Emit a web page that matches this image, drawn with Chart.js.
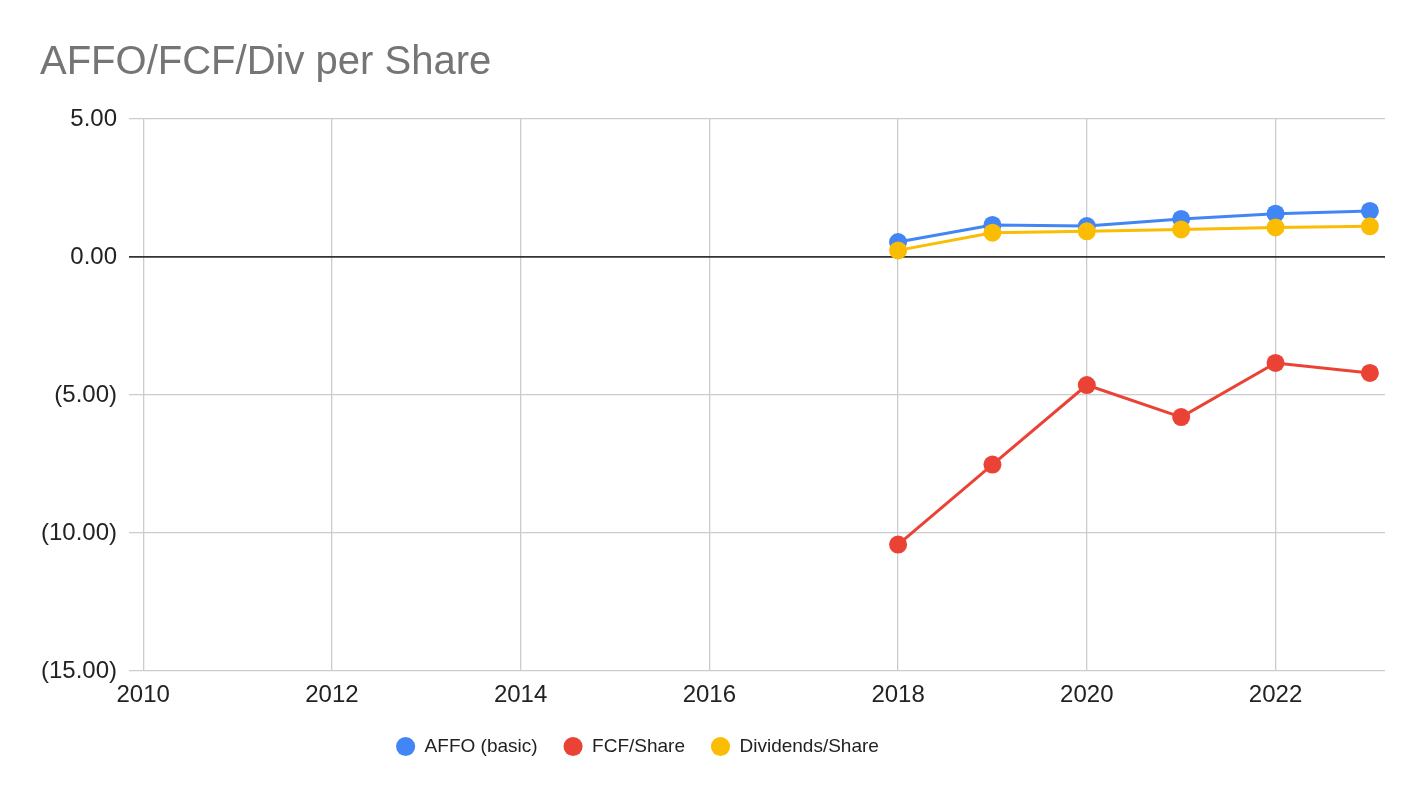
<!DOCTYPE html>
<html>
<head>
<meta charset="utf-8">
<title>AFFO/FCF/Div per Share</title>
<script src="https://cdn.jsdelivr.net/npm/chart.js@4.4.1/dist/chart.umd.min.js"></script>
<style>
  html, body { margin: 0; padding: 0; background: #fff; }
  #wrap { width: 1424px; height: 798px; }
</style>
</head>
<body>
<div id="wrap"><canvas id="grafico" width="1424" height="798"></canvas></div>
<script>
// valores
const anos = [2018, 2019, 2020, 2021, 2022, 2023];
const affo = [0.54, 1.16, 1.12, 1.38, 1.57, 1.67];
const fcf = [-10.42, -7.52, -4.64, -5.80, -3.84, -4.20];
const dividendos = [0.24, 0.88, 0.93, 1.00, 1.07, 1.11];
const anosEixo = [2010, 2012, 2014, 2016, 2018, 2020, 2022];
const valoresEixo = [-15, -10, -5, 0, 5];

function pontos(valores) {
    return anos.map((ano, i) => ({ x: ano, y: valores[i] }));
}

function formatarValor(v) {
    return v < 0 ? "(" + Math.abs(v).toFixed(2) + ")" : v.toFixed(2);
}

function serie(label, valores, cor, ordem) {
    return {
        label: label,
        data: pontos(valores),
        borderColor: cor,
        backgroundColor: cor,
        borderWidth: 3,
        pointRadius: 9,
        pointHoverRadius: 9,
        pointBorderWidth: 0,
        pointStyle: "circle",
        order: ordem
    };
}

// desloca a legenda para a mesma posição do original
const ajusteLegenda = {
    id: "ajusteLegenda",
    afterLayout(chart) {
        chart.legend.left -= 75;
        chart.legend.right -= 75;
    }
};

const fonte = "Arial, 'Liberation Sans', sans-serif";

new Chart(document.getElementById("grafico"), {
    type: "line",
    data: {
        datasets: [
            serie("AFFO (basic)", affo, "#4285F4", 3),
            serie("FCF/Share", fcf, "#EA4335", 2),
            serie("Dividends/Share", dividendos, "#FBBC04", 1)
        ]
    },
    options: {
        responsive: false,
        animation: false,
        devicePixelRatio: 1,
        layout: { padding: { left: 40, right: 39, top: 0, bottom: 32 } },
        font: { family: fonte },
        scales: {
            x: {
                type: "linear",
                min: 2009.85,
                max: 2023.16,
                afterBuildTicks: (scale) => {
                    scale.ticks = anosEixo.map((v) => ({ value: v }));
                },
                afterFit: (scale) => { scale.height = 40; },
                border: { display: false },
                grid: { color: "#cccccc", lineWidth: 1.3, drawTicks: false },
                ticks: {
                    padding: 10,
                    color: "#222222",
                    font: { size: 24, family: fonte },
                    callback: (v) => String(v),
                    maxRotation: 0,
                    autoSkip: false
                }
            },
            y: {
                min: -15,
                max: 5,
                afterBuildTicks: (scale) => {
                    scale.ticks = valoresEixo.map((v) => ({ value: v }));
                },
                afterFit: (scale) => { scale.width = 89; },
                border: { display: false },
                grid: {
                    color: (ctx) => ctx.tick && ctx.tick.value === 0 ? "#333333" : "#cccccc",
                    lineWidth: (ctx) => ctx.tick && ctx.tick.value === 0 ? 1.8 : 1.3,
                    drawTicks: false
                },
                ticks: {
                    padding: 12,
                    color: "#222222",
                    font: { size: 24, family: fonte },
                    callback: (v) => formatarValor(v)
                }
            }
        },
        plugins: {
            title: {
                display: true,
                text: "AFFO/FCF/Div per Share",
                align: "start",
                color: "#757575",
                font: { size: 40, weight: "normal", family: fonte },
                padding: { top: 39, bottom: 32 }
            },
            legend: {
                position: "bottom",
                labels: {
                    usePointStyle: true,
                    pointStyle: "circle",
                    boxWidth: 26,
                    boxHeight: 13.5,
                    padding: 26,
                    color: "#222222",
                    font: { size: 19, family: fonte },
                    sort: (a, b) => a.datasetIndex - b.datasetIndex
                }
            },
            tooltip: { enabled: false }
        }
    },
    plugins: [ajusteLegenda]
});
</script>
</body>
</html>
